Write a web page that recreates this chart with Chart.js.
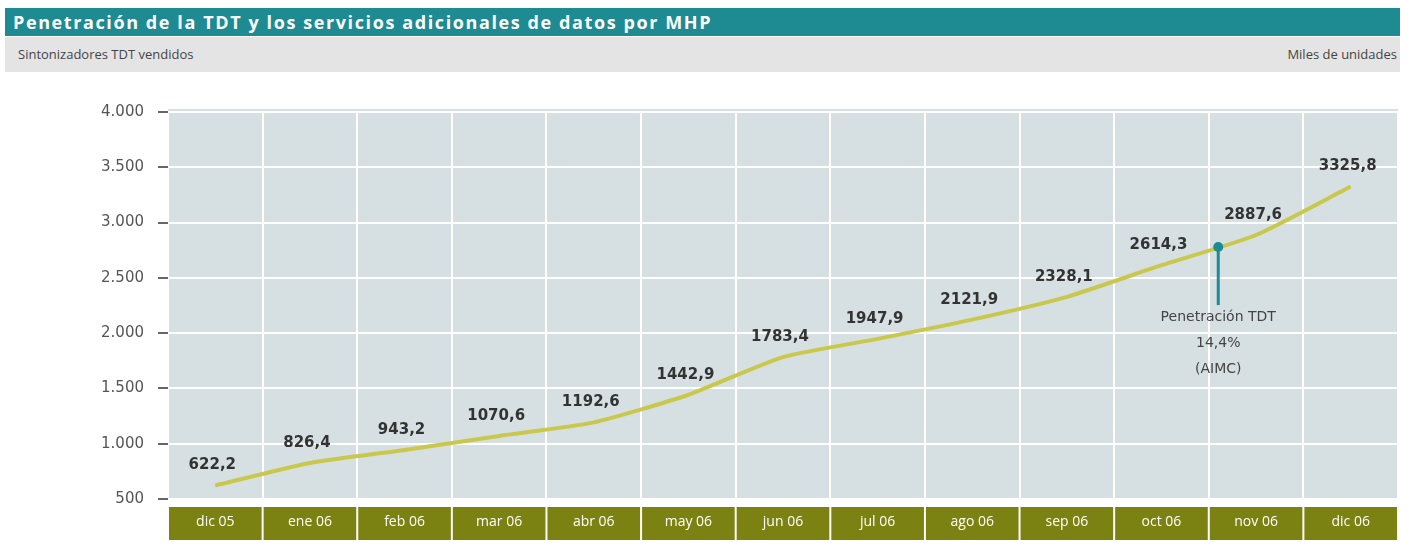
<!DOCTYPE html>
<html>
<head>
<meta charset="utf-8">
<script src="https://cdn.jsdelivr.net/npm/chart.js@4/dist/chart.umd.min.js"></script>
<style>
  body { margin: 0; background: #fff; font-family: "Open Sans", sans-serif; }
  #wrap { position: relative; width: 1408px; height: 551px; overflow: hidden; }
  .titlebar { position: absolute; left: 5px; top: 8px; width: 1395px; height: 28px;
    background: #1e8a92; color: #fff; font-weight: bold; font-size: 18px; line-height: 28px;
    letter-spacing: 1.6px; padding-left: 8px; box-sizing: border-box; }
  .subbar { position: absolute; left: 5px; top: 37px; width: 1395px; height: 35px;
    background: #e4e4e4; color: #444; font-size: 13px; line-height: 35px;
    padding: 0 3px 0 13px; box-sizing: border-box; }
  .subbar .r { float: right; }
  #chartBox { position: absolute; left: 0; top: 75px; }
</style>
</head>
<body>
<div id="wrap">
  <div class="titlebar">Penetración de la TDT y los servicios adicionales de datos por MHP</div>
  <div class="subbar"><span>Sintonizadores TDT vendidos</span><span class="r">Miles de unidades</span></div>
  <div id="chartBox"><canvas id="myChart" width="1408" height="476"></canvas></div>
</div>
<script>
var months = ["dic 05", "ene 06", "feb 06", "mar 06", "abr 06", "may 06", "jun 06",
  "jul 06", "ago 06", "sep 06", "oct 06", "nov 06", "dic 06"];
var tunersSold = [622.2, 826.4, 943.2, 1070.6, 1192.6, 1442.9, 1783.4,
  1947.9, 2121.9, 2328.1, 2614.3, 2887.6, 3325.8];
var yTicks = [500, 1000, 1500, 2000, 2500, 3000, 3500, 4000];
var noteLines = ["Penetración TDT", "14,4%", "(AIMC)"];
var noteAt = 10.6; // between oct 06 and nov 06

function thousands(v) {
  var s = String(Math.round(v));
  return s.replace(/\B(?=(\d{3})+(?!\d))/g, ".");
}

var panels = {
  id: 'panels',
  beforeDraw: function(chart) {
    var ctx = chart.ctx, a = chart.chartArea, x = chart.scales.x;
    ctx.save();
    ctx.fillStyle = '#d6e0e2';
    ctx.fillRect(a.left, a.top - 3, a.right - a.left, a.bottom - a.top + 3);
    ctx.fillStyle = '#7c8212';
    for (var i = 0; i < months.length; i++) {
      var l = x.getPixelForValue(i - 0.5), r = x.getPixelForValue(i + 0.5);
      ctx.fillRect(l + 1, a.bottom + 8, r - l - 2, 33);
    }
    ctx.restore();
  },
  afterDatasetsDraw: function(chart) {
    var ctx = chart.ctx, pts = chart.getDatasetMeta(0).data;
    ctx.save();
    ctx.font = 'bold 15px "DejaVu Sans", sans-serif';
    ctx.fillStyle = '#333';
    ctx.textAlign = 'center';
    ctx.textBaseline = 'middle';
    pts.forEach(function(p, i) {
      ctx.fillText(tunersSold[i].toFixed(1).replace('.', ','), p.x - 3, p.y - 20);
    });

    // note marker sitting on the line
    var i0 = Math.floor(noteAt), f = noteAt - i0;
    var nx = chart.scales.x.getPixelForValue(noteAt);
    var ny = pts[i0].y + (pts[i0 + 1].y - pts[i0].y) * f;
    ctx.strokeStyle = '#1e8a92';
    ctx.lineWidth = 3;
    ctx.beginPath();
    ctx.moveTo(nx, ny);
    ctx.lineTo(nx, ny + 58);
    ctx.stroke();
    ctx.fillStyle = '#1e8a92';
    ctx.beginPath();
    ctx.arc(nx, ny, 5, 0, Math.PI * 2);
    ctx.fill();
    ctx.font = '14px "DejaVu Sans", sans-serif';
    ctx.fillStyle = '#444';
    noteLines.forEach(function(t, k) {
      ctx.fillText(t, nx, ny + 70 + k * 26);
    });
    ctx.restore();
  }
};

var ctx = document.getElementById('myChart');
var chart = new Chart(ctx, {
  type: 'line',
  data: {
    labels: months,
    datasets: [{
      data: tunersSold,
      borderColor: '#c9c84c',
      borderWidth: 4,
      pointRadius: 0,
      fill: false,
      tension: 0.2
    }]
  },
  options: {
    responsive: false,
    animation: false,
    layout: { padding: { top: 37, right: 10, left: 0, bottom: 0 } },
    plugins: { legend: { display: false }, tooltip: { enabled: false } },
    scales: {
      x: {
        offset: true,
        grid: { offset: true, color: '#ffffff', lineWidth: 2, drawTicks: false },
        border: { display: false },
        ticks: { color: '#ffffff', padding: 15, font: { size: 14, family: '"Open Sans", sans-serif' } },
        afterFit: function(s) { s.height = 52; }
      },
      y: {
        min: 500,
        max: 4000,
        afterBuildTicks: function(s) { s.ticks = yTicks.map(function(v) { return { value: v }; }); },
        grid: { color: '#ffffff', lineWidth: 2, tickColor: '#666', tickLength: 10 },
        border: { display: false },
        ticks: {
          color: '#555',
          padding: 14,
          font: { size: 15, family: '"DejaVu Sans", sans-serif' },
          callback: function(v) { return thousands(v); }
        },
        afterFit: function(s) { s.width = 168; }
      }
    }
  },
  plugins: [panels]
});
</script>
</body>
</html>
